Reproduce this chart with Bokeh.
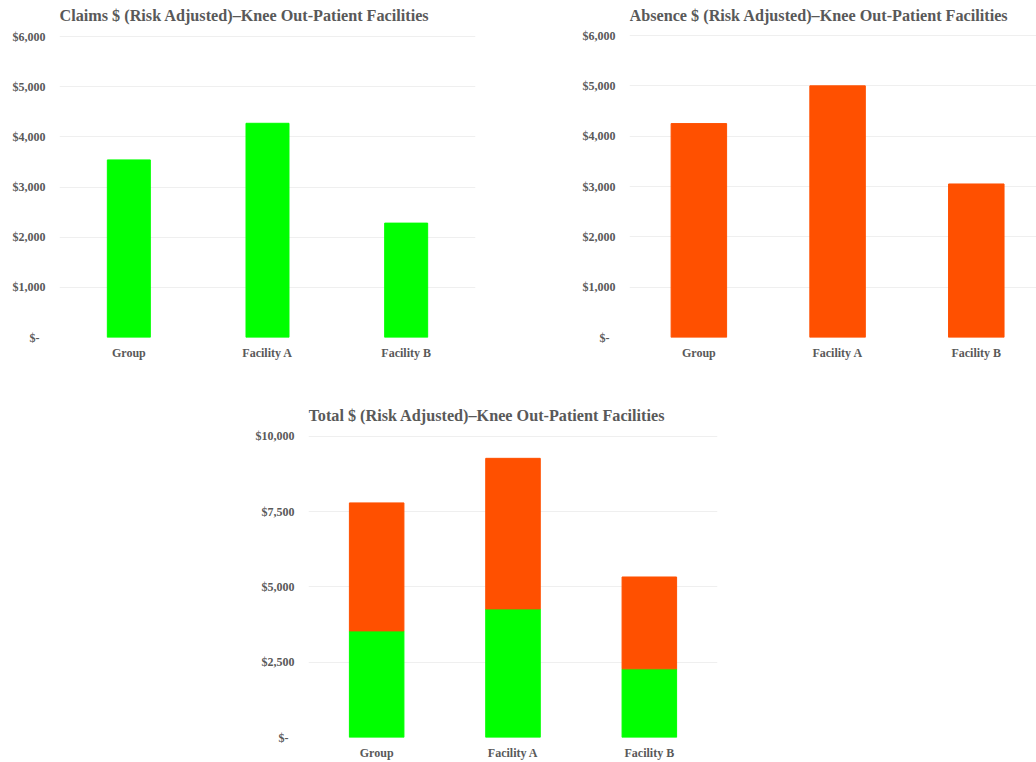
from bokeh.plotting import figure
from bokeh.layouts import column, row
from bokeh.models import Range1d, FixedTicker, NumeralTickFormatter, Spacer, ColumnDataSource, Label
from bokeh.embed import file_html
from bokeh.resources import INLINE

# Risk-adjusted knee out-patient costs per facility
categories = ["Group", "Facility A", "Facility B"]
claims = [3540, 4270, 2280]
absence = [4250, 5000, 3050]
cost_ticks = [0, 1000, 2000, 3000, 4000, 5000, 6000]
total_ticks = [0, 2500, 5000, 7500, 10000]

GREEN = "#00FF00"
ORANGE = "#FF5000"
GREY = "#595959"
GRID = "#EFEFEF"
FONT = "Liberation Serif"

xs = [i + 0.5 for i in range(len(categories))]
source = ColumnDataSource(dict(x=xs, cat=categories, claims=claims, absence=absence))


def make_panel(title, width, height, left, right, bottom, head, x_end, y_ticks, title_base):
    # the frame reaches the top edge; the upper `head` pixels hold the heading
    frame_h = height - bottom
    y_end = y_ticks[-1] * frame_h / (frame_h - head)
    p = figure(width=width, height=height, output_backend="svg", toolbar_location=None,
               x_range=Range1d(0, x_end), y_range=Range1d(0, y_end),
               min_border_left=left, min_border_right=right,
               min_border_top=0, min_border_bottom=bottom)
    p.outline_line_color = None
    p.background_fill_color = "white"
    p.border_fill_color = "white"

    p.add_layout(Label(x=0, y=frame_h - title_base, x_units="screen", y_units="screen",
                       text=title, text_font=FONT, text_font_style="bold",
                       text_font_size="16.2px", text_color=GREY,
                       text_baseline="alphabetic", text_align="left"))

    p.xgrid.grid_line_color = None
    p.ygrid.grid_line_color = GRID
    p.ygrid.grid_line_width = 1

    p.xaxis.ticker = FixedTicker(ticks=xs)
    p.xaxis.major_label_overrides = {x: c for x, c in zip(xs, categories)}
    p.yaxis.ticker = FixedTicker(ticks=y_ticks)
    p.yaxis.formatter = NumeralTickFormatter(format="$0,0")
    p.yaxis.major_label_overrides = {0: "$-\u00a0\u00a0"}

    for ax in (p.xaxis, p.yaxis):
        ax.axis_line_color = None
        ax.major_tick_line_color = None
        ax.minor_tick_line_color = None
        ax.major_tick_out = 0
        ax.major_tick_in = 0
        ax.major_label_text_font = FONT
        ax.major_label_text_font_style = "bold"
        ax.major_label_text_font_size = "12px"
        ax.major_label_text_color = GREY
    p.yaxis.major_label_standoff = 14
    p.xaxis.major_label_standoff = 8
    return p


p1 = make_panel("Claims $ (Risk Adjusted)\u2013Knee Out-Patient Facilities",
                520, 385, 59, 45, 48, 36, 3.0, cost_ticks, 15)
p1.vbar(x="x", top="claims", width=0.31, color=GREEN, source=source)

p2 = make_panel("Absence $ (Risk Adjusted)\u2013Knee Out-Patient Facilities",
                516, 385, 109, 0, 48, 35, 2.934, cost_ticks, 15)
p2.vbar(x="x", top="absence", width=0.4, color=ORANGE, source=source)

p3 = make_panel("Total $ (Risk Adjusted)\u2013Knee Out-Patient Facilities",
                520, 377, 68, 43, 24, 51, 3.0, total_ticks, 31)
p3.vbar_stack(["claims", "absence"], x="x", width=0.4, color=[GREEN, ORANGE], source=source)

layout = column(row(p1, p2), row(Spacer(width=240, height=377), p3))

open("out.html", "w").write(file_html(layout, INLINE))
